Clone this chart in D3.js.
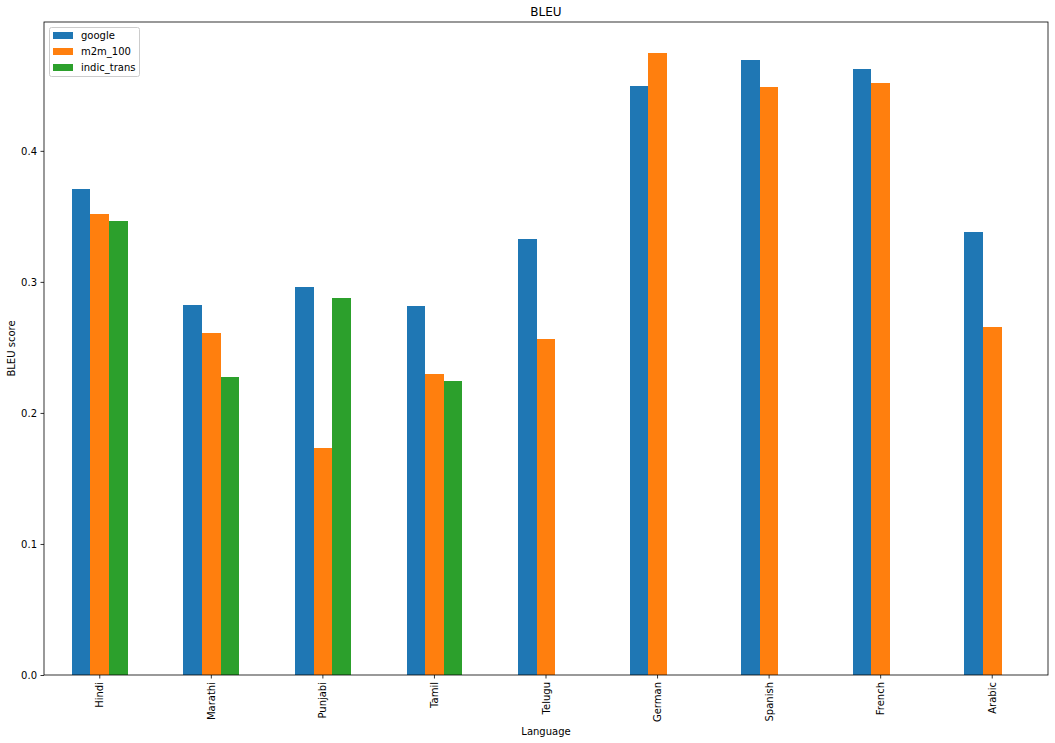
<!DOCTYPE html>
<html>
<head>
<meta charset="utf-8">
<script src="https://cdn.jsdelivr.net/npm/d3@7"></script>
<style>
  body { margin: 0; background: #fff; }
  svg text { font-family: "DejaVu Sans", sans-serif; fill: #000; }
</style>
</head>
<body>
<svg id="chart" width="1055" height="743"></svg>
<script>
// data
const languages = ['Hindi', 'Marathi', 'Punjabi', 'Tamil', 'Telugu', 'German', 'Spanish', 'French', 'Arabic'];
const seriesNames = ['google', 'm2m_100', 'indic_trans'];
const google = [0.3707, 0.2821, 0.2959, 0.2813, 0.3325, 0.4494, 0.4693, 0.4624, 0.3379];
const m2m100 = [0.3516, 0.2607, 0.1729, 0.2294, 0.2562, 0.4746, 0.4486, 0.4517, 0.2653];
const indicTrans = [0.3463, 0.2271, 0.2875, 0.2241, null, null, null, null, null];
const yTicks = [0.0, 0.1, 0.2, 0.3, 0.4];
const colors = ['#1f77b4', '#ff7f0e', '#2ca02c'];

const series = [google, m2m100, indicTrans];

const svg = d3.select('svg#chart');
const plotLeft = 44, plotRight = 1048, plotTop = 22, plotBottom = 675;

var x = d3
  .scaleBand()
  .domain(languages)
  .range([plotLeft, plotRight])
  .padding(0);

// pandas puts the three bars in the middle half of each slot
var xInner = d3
  .scaleBand()
  .domain(seriesNames)
  .range([x.bandwidth() * 0.25, x.bandwidth() * 0.75]);

const yMax = d3.max(series.flat().filter(v => v != null)) * 1.05;
var y = d3
  .scaleLinear()
  .domain([0, yMax])
  .range([plotBottom, plotTop]);

// bars
const bars = svg.append('g').attr('class', 'bars').attr('shape-rendering', 'crispEdges');
series.forEach((vals, si) => {
  bars
    .append('g')
    .selectAll('rect')
    .data(languages.map((lang, i) => ({ lang, v: vals[i] })).filter(d => d.v != null))
    .enter()
    .append('rect')
    .attr('x', d => x(d.lang) + xInner(seriesNames[si]))
    .attr('width', xInner.bandwidth())
    .attr('y', d => y(d.v))
    .attr('height', d => y(0) - y(d.v))
    .style('fill', colors[si]);
});

// axes
const xAxis = svg
  .append('g')
  .attr('transform', `translate(0,${plotBottom})`)
  .call(d3.axisBottom(x).tickSize(3.5).tickPadding(3.5));
xAxis
  .selectAll('text')
  .attr('transform', 'rotate(-90)')
  .attr('x', -7)
  .attr('y', 0)
  .attr('dy', '0.35em')
  .style('text-anchor', 'end')
  .style('font-size', '10px');

const yAxis = svg
  .append('g')
  .attr('transform', `translate(${plotLeft},0)`)
  .call(d3.axisLeft(y).tickValues(yTicks).tickFormat(d3.format('.1f')).tickSize(3.5).tickPadding(3.5));
yAxis.selectAll('text').style('font-size', '10px');

svg.selectAll('.domain').remove();
svg.selectAll('.tick line').attr('stroke', '#000').attr('stroke-width', 0.8);

// frame
svg
  .append('rect')
  .attr('x', plotLeft)
  .attr('y', plotTop)
  .attr('width', plotRight - plotLeft)
  .attr('height', plotBottom - plotTop)
  .style('fill', 'none')
  .style('stroke', '#000')
  .style('stroke-width', 0.8);

// titles
svg
  .append('text')
  .attr('x', (plotLeft + plotRight) / 2)
  .attr('y', 16)
  .attr('text-anchor', 'middle')
  .style('font-size', '12px')
  .text('BLEU');

svg
  .append('text')
  .attr('x', (plotLeft + plotRight) / 2)
  .attr('y', 735)
  .attr('text-anchor', 'middle')
  .style('font-size', '10px')
  .text('Language');

svg
  .append('text')
  .attr('transform', `translate(15,${(plotTop + plotBottom) / 2}) rotate(-90)`)
  .attr('text-anchor', 'middle')
  .style('font-size', '10px')
  .text('BLEU score');

// legend
const legend = svg.append('g').attr('class', 'legend');
legend
  .append('rect')
  .attr('x', 49.5)
  .attr('y', 27.5)
  .attr('width', 90)
  .attr('height', 49)
  .attr('rx', 2)
  .style('fill', '#fff')
  .style('fill-opacity', 0.8)
  .style('stroke', '#ccc')
  .style('stroke-width', 1);

const rows = legend
  .selectAll('g.row')
  .data(seriesNames)
  .enter()
  .append('g')
  .attr('class', 'row')
  .attr('transform', (d, i) => `translate(0,${32 + i * 16})`);

rows
  .append('rect')
  .attr('x', 53)
  .attr('y', 0)
  .attr('width', 20)
  .attr('height', 7)
  .style('fill', (d, i) => colors[i]);

rows
  .append('text')
  .attr('x', 81)
  .attr('y', 3.5)
  .attr('dy', '0.35em')
  .style('font-size', '10px')
  .text(d => d);
</script>
</body>
</html>
